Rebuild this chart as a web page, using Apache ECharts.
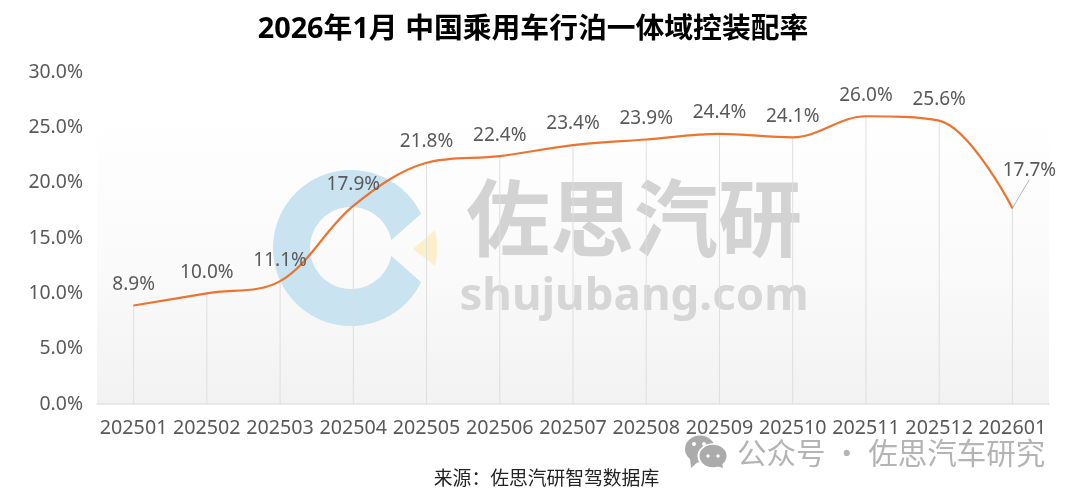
<!DOCTYPE html>
<html><head><meta charset="utf-8">
<style>html,body{margin:0;padding:0;background:#fff}#c{width:1080px;height:496px}</style>
<script src="https://cdn.jsdelivr.net/npm/echarts@6/dist/echarts.min.js"></script>
</head><body><div id="c"></div>
<script>
const categories = ['202501','202502','202503','202504','202505','202506','202507','202508','202509','202510','202511','202512','202601'];
const penetration = [8.9,10.0,11.1,17.9,21.8,22.4,23.4,23.9,24.4,24.1,26.0,25.6,17.7];
const yTicks = [0,5,10,15,20,25,30];
const titleText = '2026年1月 中国乘用车行泊一体域控装配率';
const sourceText = '来源：佐思汽研智驾数据库';
const markText = '公众号 · 佐思汽车研究';

const FONT = '"Noto Sans","Noto Sans CJK SC",sans-serif';
const chart = echarts.init(document.getElementById('c'), null, {renderer:'canvas'});
const bubble = (cx,cy,rx,ry,fill,extra) => Object.assign({type:'circle',z:1,silent:true,x:cx,y:cy,scaleY:ry/rx,shape:{cx:0,cy:0,r:rx},style:{fill}},extra||{});
// logo watermark outline: arc helper (degrees, clockwise on screen)
const arc = (cx,cy,r,a0,a1,n) => Array.from({length:n+1},(_,i)=>{const a=(a0+(a1-a0)*i/n)*Math.PI/180;return [cx+r*Math.cos(a),cy+r*Math.sin(a)];});
const ringPts = arc(351,248,78,26,334,120).concat(arc(351,248,41,349,11,100));
const wedgePts = [[413,249]].concat(arc(351,248,86,-12,12,12));
const lastIndex = penetration.length-1;
chart.setOption({
  animation:false,
  backgroundColor:'#fff',
  title:[
    {text:titleText,left:528,top:10,textAlign:'center',textStyle:{fontFamily:FONT,fontSize:28.8,fontWeight:'bold',color:'#000'}},
    {text:sourceText,left:541.5,top:465,textAlign:'center',textStyle:{fontFamily:FONT,fontSize:18.8,fontWeight:'normal',color:'#222'}}
  ],
  grid:{left:97,right:31,top:72,bottom:92,show:true,borderWidth:0,z:-1,
    backgroundColor:new echarts.graphic.LinearGradient(0,0,0,1,[
      {offset:0,color:'#ffffff'},{offset:0.1,color:'#ffffff'},{offset:0.6,color:'#fafafa'},{offset:1,color:'#f2f2f2'}])},
  xAxis:{type:'category',data:categories,boundaryGap:true,
    axisTick:{show:false},
    axisLine:{lineStyle:{color:'#e2e2e2',width:1.5}},
    axisLabel:{fontFamily:FONT,fontSize:19.7,color:'#595959',margin:15,interval:0}},
  yAxis:{type:'value',min:yTicks[0],max:yTicks[yTicks.length-1],interval:5,
    axisLine:{show:false},axisTick:{show:false},splitLine:{show:false},
    axisLabel:{fontFamily:FONT,fontSize:19.4,color:'#595959',margin:14,padding:[4,0,0,0],formatter:v=>v.toFixed(1)+'%'}},
  graphic:[
    {type:'polygon',z:0,silent:true,shape:{points:ringPts},style:{fill:'#c9e3f0'}},
    {type:'polygon',z:0,silent:true,shape:{points:wedgePts},style:{fill:'#fcefc9'}},
    {type:'text',z:0,silent:true,style:{x:634,y:218,text:'佐思汽研',align:'center',verticalAlign:'middle',font:'bold 84px "Noto Sans CJK SC"',fill:'#d3d3d3'}},
    {type:'text',z:0,silent:true,style:{x:634,y:297,text:'shujubang.com',align:'center',verticalAlign:'middle',font:'bold 45.6px "Noto Sans"',fill:'#d6d6d6'}},
    bubble(700,449,15,13.5,'#ababab'),
    {type:'polygon',z:1,silent:true,shape:{points:[[690,458],[691,468],[699,461]]},style:{fill:'#ababab'}},
    bubble(713,456,14.5,12,'#ababab',{style:{fill:'#ababab',stroke:'#fff',lineWidth:2}}),
    {type:'polygon',z:1,silent:true,shape:{points:[[717,466],[723,468],[722,462]]},style:{fill:'#ababab'}},
    bubble(694,444,2,2,'#fff',{z:2}),bubble(704,444,2,2,'#fff',{z:2}),
    bubble(708,456,1.7,1.7,'#fff',{z:2}),bubble(718,456,1.7,1.7,'#fff',{z:2}),
    {type:'text',z:1,silent:true,style:{x:737,y:453,text:markText,align:'left',verticalAlign:'middle',font:'29.5px "Noto Sans CJK SC"',fill:'#b4b4b4'}}
  ],
  series:[
    {type:'bar',data:penetration,barWidth:1,silent:true,z:1,itemStyle:{color:'#dedede'}},
    {type:'line',data:penetration.map((v,i)=>i===lastIndex?{value:v,labelLine:{show:true,lineStyle:{color:'#b5b5b5',width:1}}}:v),
      smooth:0.35,symbol:'circle',symbolSize:1,showSymbol:true,showAllSymbol:true,z:3,
      itemStyle:{color:'#ec7330'},
      lineStyle:{color:'#ec7330',width:2.2},
      label:{show:true,position:'top',distance:11,fontFamily:FONT,fontSize:19,color:'#595959',formatter:p=>penetration[p.dataIndex].toFixed(1)+'%'},
      labelLine:{show:false},
      labelLayout:p=>p.dataIndex===lastIndex?{dx:17,dy:-17}:{}
    }
  ]
});
</script></body></html>
